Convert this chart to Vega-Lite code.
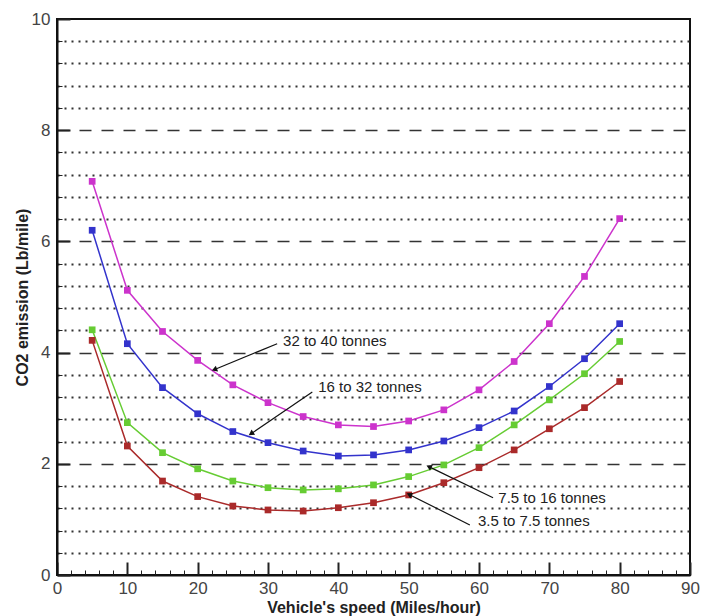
{
  "$schema": "https://vega.github.io/schema/vega-lite/v6.json",
  "width": 633,
  "height": 556,
  "autosize": "none",
  "padding": {"left": 57, "top": 19, "right": 13, "bottom": 41},
  "background": "white",
  "config": {
    "view": {"stroke": "#111111", "strokeWidth": 2},
    "font": "Liberation Sans"
  },
  "datasets": {
    "main": [
      {"series": "32 to 40 tonnes", "speed": 5, "co2": 7.08},
      {"series": "32 to 40 tonnes", "speed": 10, "co2": 5.12},
      {"series": "32 to 40 tonnes", "speed": 15, "co2": 4.38},
      {"series": "32 to 40 tonnes", "speed": 20, "co2": 3.86},
      {"series": "32 to 40 tonnes", "speed": 25, "co2": 3.42},
      {"series": "32 to 40 tonnes", "speed": 30, "co2": 3.10},
      {"series": "32 to 40 tonnes", "speed": 35, "co2": 2.85},
      {"series": "32 to 40 tonnes", "speed": 40, "co2": 2.70},
      {"series": "32 to 40 tonnes", "speed": 45, "co2": 2.67},
      {"series": "32 to 40 tonnes", "speed": 50, "co2": 2.77},
      {"series": "32 to 40 tonnes", "speed": 55, "co2": 2.97},
      {"series": "32 to 40 tonnes", "speed": 60, "co2": 3.33},
      {"series": "32 to 40 tonnes", "speed": 65, "co2": 3.84},
      {"series": "32 to 40 tonnes", "speed": 70, "co2": 4.52},
      {"series": "32 to 40 tonnes", "speed": 75, "co2": 5.37},
      {"series": "32 to 40 tonnes", "speed": 80, "co2": 6.41},
      {"series": "16 to 32 tonnes", "speed": 5, "co2": 6.20},
      {"series": "16 to 32 tonnes", "speed": 10, "co2": 4.16},
      {"series": "16 to 32 tonnes", "speed": 15, "co2": 3.37},
      {"series": "16 to 32 tonnes", "speed": 20, "co2": 2.90},
      {"series": "16 to 32 tonnes", "speed": 25, "co2": 2.58},
      {"series": "16 to 32 tonnes", "speed": 30, "co2": 2.38},
      {"series": "16 to 32 tonnes", "speed": 35, "co2": 2.23},
      {"series": "16 to 32 tonnes", "speed": 40, "co2": 2.14},
      {"series": "16 to 32 tonnes", "speed": 45, "co2": 2.16},
      {"series": "16 to 32 tonnes", "speed": 50, "co2": 2.25},
      {"series": "16 to 32 tonnes", "speed": 55, "co2": 2.41},
      {"series": "16 to 32 tonnes", "speed": 60, "co2": 2.65},
      {"series": "16 to 32 tonnes", "speed": 65, "co2": 2.95},
      {"series": "16 to 32 tonnes", "speed": 70, "co2": 3.39},
      {"series": "16 to 32 tonnes", "speed": 75, "co2": 3.89},
      {"series": "16 to 32 tonnes", "speed": 80, "co2": 4.52},
      {"series": "7.5 to 16 tonnes", "speed": 5, "co2": 4.41},
      {"series": "7.5 to 16 tonnes", "speed": 10, "co2": 2.74},
      {"series": "7.5 to 16 tonnes", "speed": 15, "co2": 2.20},
      {"series": "7.5 to 16 tonnes", "speed": 20, "co2": 1.91},
      {"series": "7.5 to 16 tonnes", "speed": 25, "co2": 1.69},
      {"series": "7.5 to 16 tonnes", "speed": 30, "co2": 1.57},
      {"series": "7.5 to 16 tonnes", "speed": 35, "co2": 1.53},
      {"series": "7.5 to 16 tonnes", "speed": 40, "co2": 1.55},
      {"series": "7.5 to 16 tonnes", "speed": 45, "co2": 1.62},
      {"series": "7.5 to 16 tonnes", "speed": 50, "co2": 1.77},
      {"series": "7.5 to 16 tonnes", "speed": 55, "co2": 1.98},
      {"series": "7.5 to 16 tonnes", "speed": 60, "co2": 2.29},
      {"series": "7.5 to 16 tonnes", "speed": 65, "co2": 2.70},
      {"series": "7.5 to 16 tonnes", "speed": 70, "co2": 3.15},
      {"series": "7.5 to 16 tonnes", "speed": 75, "co2": 3.62},
      {"series": "7.5 to 16 tonnes", "speed": 80, "co2": 4.20},
      {"series": "3.5 to 7.5 tonnes", "speed": 5, "co2": 4.22},
      {"series": "3.5 to 7.5 tonnes", "speed": 10, "co2": 2.32},
      {"series": "3.5 to 7.5 tonnes", "speed": 15, "co2": 1.69},
      {"series": "3.5 to 7.5 tonnes", "speed": 20, "co2": 1.41},
      {"series": "3.5 to 7.5 tonnes", "speed": 25, "co2": 1.24},
      {"series": "3.5 to 7.5 tonnes", "speed": 30, "co2": 1.17},
      {"series": "3.5 to 7.5 tonnes", "speed": 35, "co2": 1.15},
      {"series": "3.5 to 7.5 tonnes", "speed": 40, "co2": 1.21},
      {"series": "3.5 to 7.5 tonnes", "speed": 45, "co2": 1.30},
      {"series": "3.5 to 7.5 tonnes", "speed": 50, "co2": 1.44},
      {"series": "3.5 to 7.5 tonnes", "speed": 55, "co2": 1.66},
      {"series": "3.5 to 7.5 tonnes", "speed": 60, "co2": 1.93},
      {"series": "3.5 to 7.5 tonnes", "speed": 65, "co2": 2.25},
      {"series": "3.5 to 7.5 tonnes", "speed": 70, "co2": 2.63},
      {"series": "3.5 to 7.5 tonnes", "speed": 75, "co2": 3.01},
      {"series": "3.5 to 7.5 tonnes", "speed": 80, "co2": 3.48}
    ],
    "notes": [
      {"label": "32 to 40 tonnes", "tx": 32.0, "ty": 4.21, "ax": 31.3, "ay": 4.16, "hx": 22.5, "hy": 3.70},
      {"label": "16 to 32 tonnes", "tx": 37.0, "ty": 3.38, "ax": 36.3, "ay": 3.29, "hx": 27.7, "hy": 2.55},
      {"label": "7.5 to 16 tonnes", "tx": 62.6, "ty": 1.39, "ax": 62.0, "ay": 1.39, "hx": 53.0, "hy": 1.94},
      {"label": "3.5 to 7.5 tonnes", "tx": 59.7, "ty": 0.97, "ax": 58.7, "ay": 0.90, "hx": 50.2, "hy": 1.44}
    ]
  },
  "layer": [
    {
      "data": {"name": "main"},
      "mark": {"type": "line", "strokeWidth": 1.5, "point": {"shape": "square", "size": 45, "filled": true}},
      "encoding": {
        "x": {
          "field": "speed", "type": "quantitative",
          "scale": {"domain": [0, 90], "nice": false, "zero": false},
          "axis": {
            "title": "Vehicle's speed (Miles/hour)",
            "values": [0,2,4,6,8,10,12,14,16,18,20,22,24,26,28,30,32,34,36,38,40,42,44,46,48,50,52,54,56,58,60,62,64,66,68,70,72,74,76,78,80,82,84,86,88,90],
            "tickCount": 200,
            "labelExpr": "datum.value % 10 === 0 ? format(datum.value, 'd') : ''",
            "grid": false,
            "domainColor": "#111111", "domainWidth": 2,
            "tickColor": "#222222",
            "tickSize": {"condition": {"test": "datum.value % 10 === 0", "value": -13}, "value": -5},
            "tickWidth": {"condition": {"test": "datum.value % 10 === 0", "value": 2}, "value": 1},
            "labelFontSize": 17, "labelColor": "#444444", "labelPadding": 18,
            "labelFlush": false, "labelOverlap": false,
            "titleFontSize": 16, "titleFontWeight": "bold", "titleColor": "#222222",
            "titleY": 24, "titleBaseline": "top"
          }
        },
        "y": {
          "field": "co2", "type": "quantitative",
          "scale": {"domain": [0, 10], "nice": false},
          "axis": {
            "title": "CO2 emission (Lb/mile)",
            "values": [0,0.4,0.8,1.2,1.6,2,2.4,2.8,3.2,3.6,4,4.4,4.8,5.2,5.6,6,6.4,6.8,7.2,7.6,8,8.4,8.8,9.2,9.6,10],
            "tickCount": 200,
            "labelExpr": "abs(datum.value/2 - round(datum.value/2)) < 0.01 ? format(datum.value, 'd') : ''",
            "grid": true,
            "gridColor": "#333333",
            "gridWidth": {"condition": {"test": "abs(datum.value/2 - round(datum.value/2)) < 0.01", "value": 1.5}, "value": 2},
            "gridDash": {"condition": {"test": "abs(datum.value/2 - round(datum.value/2)) < 0.01", "value": [12, 10]}, "value": [2, 5]},
            "gridOpacity": {"condition": {"test": "datum.value < 0.1 || datum.value > 9.9", "value": 0}, "value": 1},
            "domainColor": "#111111", "domainWidth": 2,
            "tickColor": "#222222",
            "tickSize": {"condition": {"test": "abs(datum.value/2 - round(datum.value/2)) < 0.01", "value": -13}, "value": -5},
            "tickWidth": {"condition": {"test": "abs(datum.value/2 - round(datum.value/2)) < 0.01", "value": 2}, "value": 1},
            "labelFontSize": 17, "labelColor": "#444444", "labelPadding": 20,
            "labelFlush": false, "labelOverlap": false,
            "titleFontSize": 16, "titleFontWeight": "bold", "titleColor": "#222222",
            "titleX": -35, "titleBaseline": "middle"
          }
        },
        "color": {
          "field": "series", "type": "nominal",
          "scale": {
            "domain": ["32 to 40 tonnes", "16 to 32 tonnes", "7.5 to 16 tonnes", "3.5 to 7.5 tonnes"],
            "range": ["#CC33CC", "#3333CC", "#66CC33", "#AA2A2A"]
          },
          "legend": null
        }
      }
    },
    {
      "data": {"name": "notes"},
      "mark": {"type": "rule", "color": "#111111", "strokeWidth": 1.2},
      "encoding": {
        "x": {"field": "ax", "type": "quantitative", "title": "Vehicle's speed (Miles/hour)"},
        "y": {"field": "ay", "type": "quantitative", "title": "CO2 emission (Lb/mile)"},
        "x2": {"field": "hx"},
        "y2": {"field": "hy"}
      }
    },
    {
      "data": {"name": "notes"},
      "transform": [{"filter": "datum.label === '32 to 40 tonnes'"}],
      "mark": {"type": "point", "shape": "triangle", "filled": true, "color": "#111111", "size": 40, "angle": 249, "opacity": 1},
      "encoding": {
        "x": {"field": "hx", "type": "quantitative", "title": "Vehicle's speed (Miles/hour)"},
        "y": {"field": "hy", "type": "quantitative", "title": "CO2 emission (Lb/mile)"}
      }
    },
    {
      "data": {"name": "notes"},
      "transform": [{"filter": "datum.label === '16 to 32 tonnes'"}],
      "mark": {"type": "point", "shape": "triangle", "filled": true, "color": "#111111", "size": 40, "angle": 236, "opacity": 1},
      "encoding": {
        "x": {"field": "hx", "type": "quantitative", "title": "Vehicle's speed (Miles/hour)"},
        "y": {"field": "hy", "type": "quantitative", "title": "CO2 emission (Lb/mile)"}
      }
    },
    {
      "data": {"name": "notes"},
      "transform": [{"filter": "datum.label === '7.5 to 16 tonnes' || datum.label === '3.5 to 7.5 tonnes'"}],
      "mark": {"type": "point", "shape": "triangle", "filled": true, "color": "#111111", "size": 40, "angle": 296, "opacity": 1},
      "encoding": {
        "x": {"field": "hx", "type": "quantitative", "title": "Vehicle's speed (Miles/hour)"},
        "y": {"field": "hy", "type": "quantitative", "title": "CO2 emission (Lb/mile)"}
      }
    },
    {
      "data": {"name": "notes"},
      "mark": {"type": "text", "align": "left", "baseline": "middle", "fontSize": 15, "color": "#222222", "dx": 1},
      "encoding": {
        "x": {"field": "tx", "type": "quantitative", "title": "Vehicle's speed (Miles/hour)"},
        "y": {"field": "ty", "type": "quantitative", "title": "CO2 emission (Lb/mile)"},
        "text": {"field": "label", "type": "nominal"}
      }
    }
  ]
}
